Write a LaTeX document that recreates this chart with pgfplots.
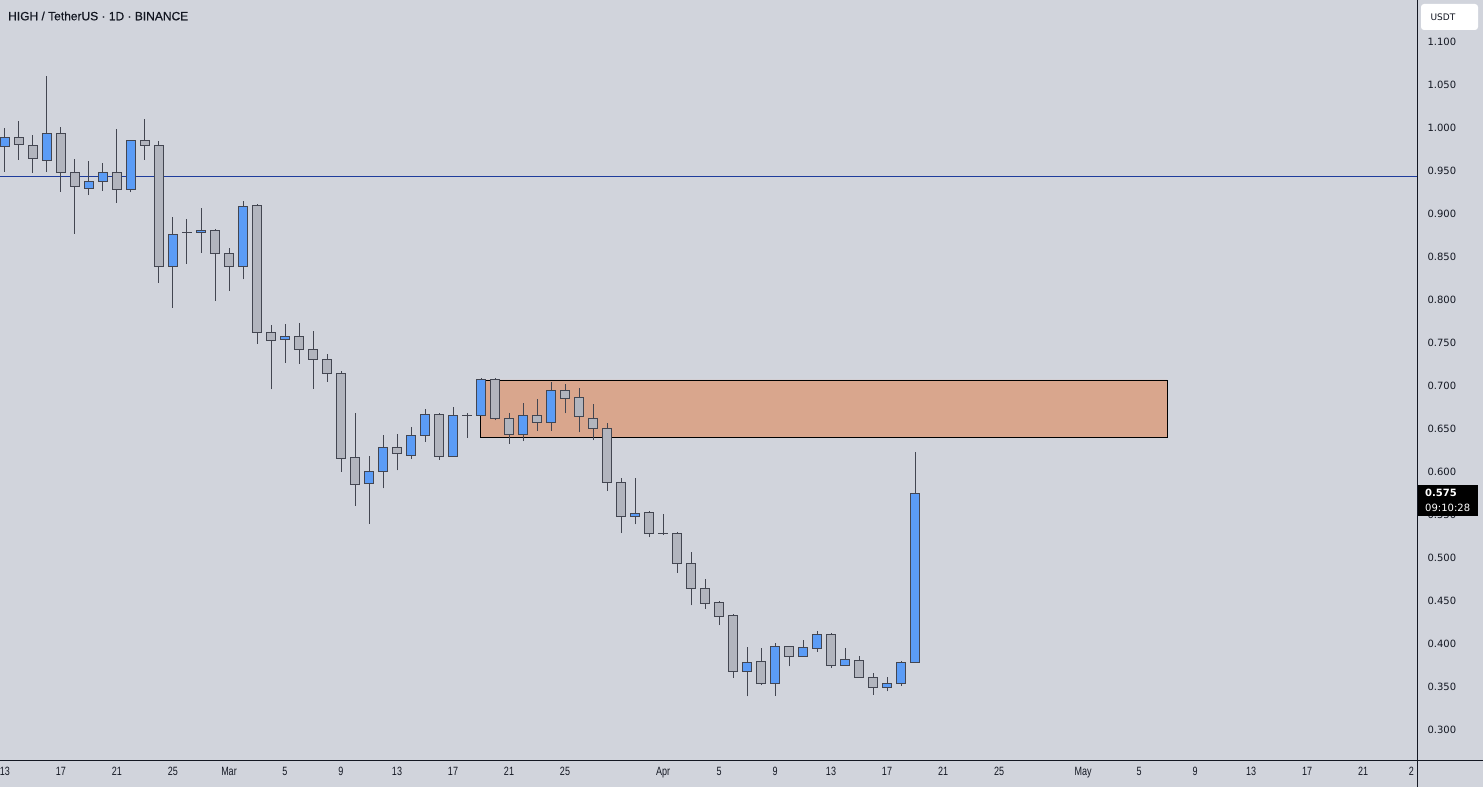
\documentclass[border=0pt]{standalone}
\usepackage{fontspec}
\setmainfont{Liberation Sans}
\newfontfamily\dejavu{DejaVu Sans}
\newfontfamily\narrowfont[FakeStretch=0.75]{Liberation Sans}
\newfontfamily\titlefont[FakeBold=0.6]{Liberation Sans}
\usepackage{pgfplots}
\usepackage{pgfplotstable}
\pgfplotsset{compat=1.18}

\definecolor{bgC}{HTML}{D1D4DC}
\definecolor{upC}{HTML}{5B9CF6}
\definecolor{downC}{HTML}{B2B5BE}
\definecolor{edgeC}{HTML}{434651}
\definecolor{zoneC}{HTML}{D9A68D}
\definecolor{lineC}{HTML}{1E3C9C}
\definecolor{txtC}{HTML}{131722}

% day index (0 = Feb 13), open, high, low, close
\pgfplotstableread{
d O H L C
0 0.978 1.000 0.949 0.989
1 0.989 1.008 0.963 0.981
2 0.980 0.992 0.948 0.964
3 0.962 1.060 0.949 0.994
4 0.993 1.001 0.926 0.948
5 0.948 0.964 0.877 0.932
6 0.930 0.962 0.922 0.938
7 0.938 0.959 0.927 0.948
8 0.948 0.999 0.913 0.929
9 0.929 0.986 0.925 0.985
10 0.985 1.010 0.963 0.980
11 0.980 0.985 0.820 0.839
12 0.839 0.897 0.791 0.876
13 0.878 0.894 0.842 0.878
14 0.878 0.907 0.855 0.881
15 0.881 0.882 0.799 0.854
16 0.854 0.861 0.811 0.839
17 0.839 0.915 0.824 0.909
18 0.910 0.912 0.749 0.762
19 0.762 0.771 0.696 0.753
20 0.754 0.772 0.727 0.758
21 0.758 0.773 0.726 0.742
22 0.742 0.764 0.697 0.731
23 0.731 0.737 0.705 0.715
24 0.715 0.717 0.600 0.616
25 0.617 0.669 0.561 0.586
26 0.587 0.619 0.540 0.601
27 0.601 0.643 0.581 0.628
28 0.629 0.644 0.602 0.621
29 0.619 0.652 0.615 0.642
30 0.642 0.673 0.635 0.667
31 0.667 0.669 0.614 0.618
32 0.618 0.676 0.618 0.666
33 0.666 0.669 0.640 0.666
34 0.666 0.709 0.665 0.707
35 0.707 0.709 0.660 0.662
36 0.662 0.669 0.633 0.643
37 0.643 0.680 0.636 0.666
38 0.666 0.685 0.648 0.658
39 0.658 0.705 0.648 0.695
40 0.695 0.702 0.668 0.686
41 0.687 0.698 0.646 0.664
42 0.662 0.679 0.637 0.651
43 0.651 0.657 0.578 0.588
44 0.588 0.593 0.529 0.548
45 0.548 0.593 0.539 0.552
46 0.553 0.555 0.524 0.528
47 0.529 0.551 0.527 0.529
48 0.528 0.530 0.483 0.493
49 0.493 0.507 0.445 0.464
50 0.464 0.475 0.441 0.447
51 0.448 0.450 0.422 0.432
52 0.433 0.435 0.361 0.368
53 0.368 0.397 0.339 0.379
54 0.380 0.395 0.352 0.354
55 0.354 0.401 0.340 0.397
56 0.397 0.398 0.374 0.386
57 0.386 0.405 0.385 0.396
58 0.395 0.415 0.391 0.411
59 0.411 0.413 0.372 0.375
60 0.375 0.395 0.375 0.382
61 0.381 0.386 0.361 0.361
62 0.361 0.366 0.341 0.349
63 0.349 0.362 0.345 0.354
64 0.354 0.380 0.351 0.379
65 0.378 0.623 0.378 0.575
}\candles

% #1 day, #2 open, #3 high, #4 low, #5 close
\newcommand\candle[5]{%
  \pgfmathsetmacro\lo{min(#2,#5)}%
  \pgfmathsetmacro\hi{max(#2,#5)}%
  \pgfmathsetmacro\xa{#1-0.355}%
  \pgfmathsetmacro\xb{#1+0.355}%
  \ifdim #5pt>#2pt \def\cc{upC}\else\def\cc{downC}\fi
  \edef\tmp{%
    \noexpand\addplot[edgeC, line width=1pt, mark=none, forget plot]
      coordinates {(#1,#4) (#1,#3)};
    \noexpand\addplot[draw=edgeC, fill=\cc, line width=1pt, line join=miter, mark=none, forget plot]
      coordinates {(\xa,\lo) (\xb,\lo) (\xb,\hi) (\xa,\hi) (\xa,\lo) (\xb,\lo)};
  }%
  \tmp
}

\begin{document}
\begin{tikzpicture}
\useasboundingbox (0,0) rectangle (1483pt,787pt);
\fill[bgC] (0,0) rectangle (1483pt,787pt);
\begin{axis}[
  at={(0pt,27pt)}, anchor=south west,
  width=1417pt, height=760pt, scale only axis,
  xmin=-0.357, xmax=100.857, ymin=0.2651, ymax=1.1488,
  axis line style={draw=none},
  major tick length=0pt,
  ytick={0.3,0.35,0.4,0.45,0.5,0.55,0.6,0.65,0.7,0.75,0.8,0.85,0.9,0.95,1.0,1.05,1.1},
  yticklabel pos=right,
  y tick label style={/pgf/number format/.cd, fixed, fixed zerofill, precision=3,
    assume math mode=true, /tikz/.cd,
    font=\dejavu\fontsize{10}{12}\selectfont, text=txtC, anchor=west, xshift=7pt},
  xtick={0,4,8,12,16,20,24,28,32,36,40,47,51,55,59,63,67,71,77,81,85,89,93,97,100.45},
  xticklabels={13,17,21,25,Mar,5,9,13,17,21,25,Apr,5,9,13,17,21,25,May,5,9,13,17,21,2},
  x tick label style={font=\narrowfont\fontsize{12}{14}\selectfont, text=txtC, yshift=-4pt},
]
% supply zone
\addplot[fill=zoneC, draw=black, line width=0.9pt, mark=none]
  coordinates {(33.93,0.640) (83.0,0.640) (83.0,0.707) (33.93,0.707) (33.93,0.640) (83.0,0.640)};
% horizontal level
\addplot[lineC, line width=1pt, mark=none] coordinates {(-1,0.944) (102,0.944)};
% candles
\pgfplotsinvokeforeach{0,...,65}{%
  \pgfplotstablegetelem{#1}{d}\of\candles\let\cD\pgfplotsretval
  \pgfplotstablegetelem{#1}{O}\of\candles\let\cO\pgfplotsretval
  \pgfplotstablegetelem{#1}{H}\of\candles\let\cH\pgfplotsretval
  \pgfplotstablegetelem{#1}{L}\of\candles\let\cL\pgfplotsretval
  \pgfplotstablegetelem{#1}{C}\of\candles\let\cC\pgfplotsretval
  \candle{\cD}{\cO}{\cH}{\cL}{\cC}%
}
\end{axis}
% scale borders
\draw[txtC, line width=0.8pt] (0,27pt) -- (1483pt,27pt);
\draw[txtC, line width=0.8pt] (1417pt,0) -- (1417pt,787pt);
% title
\node[anchor=west, text=txtC, font=\titlefont\fontsize{12}{14}\selectfont, inner sep=0pt] at (8pt,771pt) {HIGH / TetherUS · 1D · BINANCE};
% currency box
\fill[white, rounded corners=3pt] (1421pt,757pt) rectangle (1478pt,783pt);
\node[text=txtC, font=\dejavu\fontsize{9}{11}\selectfont] at (1443pt,770pt) {USDT};
% last price tag
\fill[black] (1418pt,271pt) rectangle (1478pt,302pt);
\node[anchor=west, text=white, font=\dejavu\bfseries\fontsize{10}{12}\selectfont, inner sep=0pt] at (1425pt,294pt) {0.575};
\node[anchor=west, text=white, font=\dejavu\fontsize{10}{12}\selectfont, inner sep=0pt] at (1425pt,279pt) {09:10:28};
\end{tikzpicture}
\end{document}
